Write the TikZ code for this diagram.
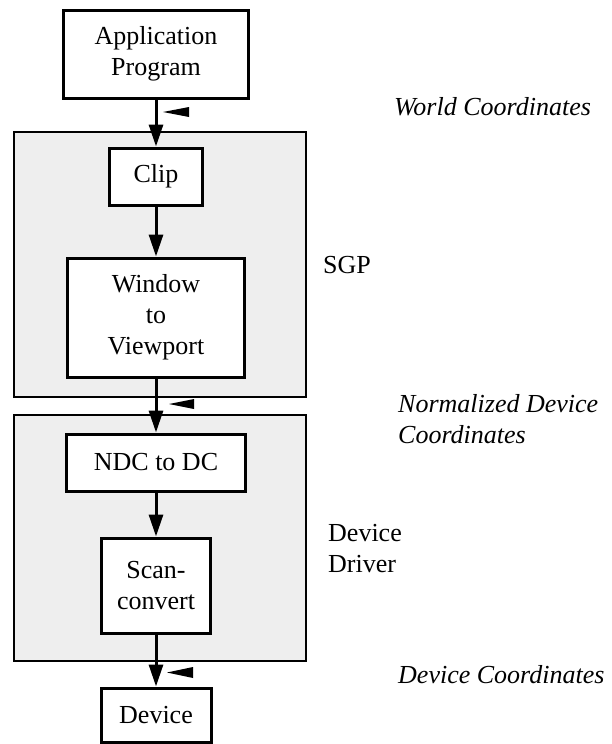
\documentclass[tikz,border=0pt]{standalone}
\usepackage{fontspec}
\setmainfont{Liberation Serif}
\usetikzlibrary{arrows.meta,positioning}
\definecolor{panel}{HTML}{EEEEEE}

\begin{document}
\begin{tikzpicture}[x=1pt, y=-1pt,
    every node/.style={font=\fontsize{26}{31}\selectfont},
    box/.style={rectangle, draw, line width=3pt, fill=white, inner sep=0pt, align=center},
    group/.style={rectangle, draw, line width=2pt, fill=panel, inner sep=0pt},
    flow/.style={-{Triangle[width=14pt,length=22pt]}, line width=3pt},
    tag/.style={anchor=base west, align=left, inner sep=0pt}
]
\useasboundingbox (0,0) rectangle (612,744);

% Groups
\node[group, minimum width=292pt, minimum height=265pt] (sgp) at (160,264.5) {};
\node[group, minimum width=292pt, minimum height=246pt] (drv) at (160,538) {};

% Pipeline
\node[box, minimum width=185pt, minimum height=88pt] (app) at (156,54) {Application\\Program};
\node[box, minimum width=93pt, minimum height=57pt] (clip) at (156,176.5) {Clip};
\node[box, minimum width=177pt, minimum height=119pt] (win) at (156,317.5) {Window\\to\\Viewport};
\node[box, minimum width=179pt, minimum height=57pt] (ndc) at (156,462.5) {NDC to DC};
\node[box, minimum width=109pt, minimum height=95pt] (scan) at (156,585.5) {Scan-\\convert};
\node[box, minimum width=110pt, minimum height=54pt] (dev) at (156,715) {Device};

% Arrows
\draw[flow] (app) -- (clip);
\draw[flow] (clip) -- (win);
\draw[flow] (win) -- (ndc);
\draw[flow] (ndc) -- (scan);
\draw[flow] (scan) -- (dev);

% Markers
\fill (189,107) -- (163,112) -- (189,117) -- cycle;
\fill (194,399) -- (169,404) -- (194,409) -- cycle;
\fill (193,667) -- (167,672.5) -- (193,678) -- cycle;

% Labels (base = last line)
\node[tag, font=\fontsize{26}{31}\selectfont\itshape] (wc) at (394,115) {World Coordinates};
\node[tag] (sgplbl) at (323,273) {SGP};
\node[tag, font=\fontsize{26}{31}\selectfont\itshape] (ndclbl) at (398,443) {Normalized Device\\Coordinates};
\node[tag] (drvlbl) at (328,572) {Device\\Driver};
\node[tag, font=\fontsize{26}{31}\selectfont\itshape] (dclbl) at (398,683) {Device Coordinates};

\end{tikzpicture}
\end{document}
